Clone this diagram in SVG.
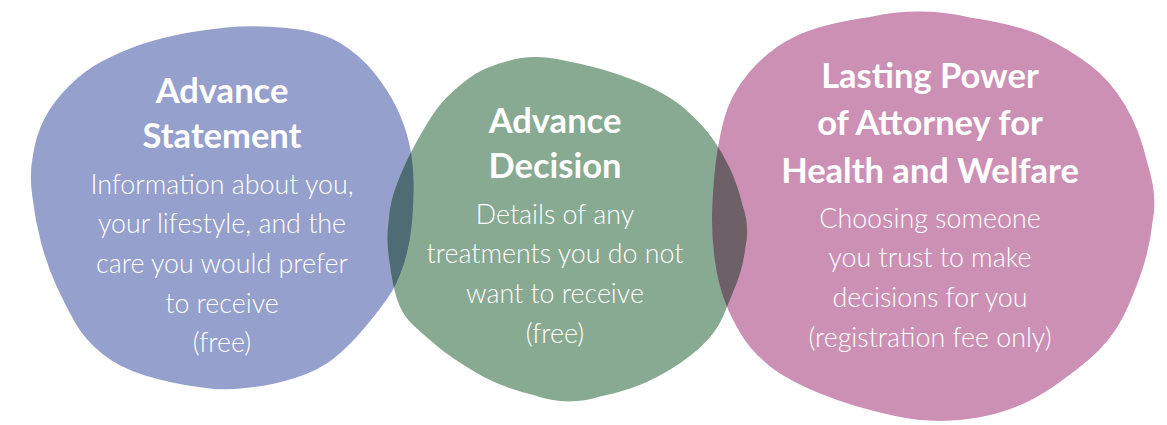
<svg xmlns="http://www.w3.org/2000/svg" width="1167" height="425" viewBox="0 0 1167 425">
<style>
.title{font-family:Lato,"Open Sans","Liberation Sans",sans-serif;font-weight:700;font-size:34.5px;fill:#ffffff;text-anchor:middle}
.body{font-family:Lato,"Open Sans","Liberation Sans",sans-serif;font-weight:300;font-size:26.8px;fill:#ffffff;text-anchor:middle}
</style>
<defs>
<path id="blueShape" d="M226.5,27.5 Q253,25 286.5,28 Q320,31 340,43 Q360,55 374,72.5 Q388,90 396.5,107.5 Q405,125 409,142.5 Q413,160 413.5,180 Q414,200 412,222.5 Q410,245 403.5,265 Q397,285 387,299 Q377,313 363.5,329 Q350,345 335,357.5 Q320,370 295,378 Q270,386 245,388 Q220,391 195,386.5 Q170,383 145,375.5 Q120,368 102.5,354 Q85,340 75,322.5 Q65,305 56,285 Q47,265 41,242.5 Q35,220 32.5,197.5 Q29,175 33,155 Q36,135 44.5,118.5 Q53,102 69,86 Q85,70 102.5,61 Q120,52 136.5,46 Q153,40 176.5,35 Q200,30 226.5,27.5 Z"/>
<path id="greenShape" d="M508,61 Q533,53 566.5,61 Q600,67 633.5,80 Q667,93 685,109 Q703,125 712.5,138.5 Q722,152 729.5,167.5 Q737,183 742.5,205 Q750,227 745.5,247 Q743,267 736.5,283.5 Q730,300 723,316.5 Q716,333 699.5,348 Q683,363 658,376.5 Q633,390 600,396.5 Q567,407 533.5,395 Q500,387 475,372 Q450,357 437.5,346.5 Q425,336 413.5,325.5 Q402,315 397,299 Q392,283 389.5,261.5 Q386,240 388.5,222.5 Q390,205 393.5,194 Q397,183 403.5,168 Q410,153 421.5,133 Q433,113 441.5,103 Q450,93 466.5,80 Q483,67 508,61 Z"/>
<path id="pinkShape" d="M870,17 Q920,6 970,17.5 Q1020,25 1045,37.5 Q1070,50 1090,65 Q1110,80 1125,105 Q1140,130 1147.5,163.5 Q1158,197 1152.5,222 Q1150,247 1141.5,272 Q1133,297 1124,315 Q1115,333 1101,348 Q1087,363 1053.5,386.5 Q1020,410 978.5,417.5 Q937,425 895,416 Q853,407 820,393.5 Q787,380 769.5,366 Q752,352 741.5,335 Q731,318 724.5,300.5 Q718,283 715,261.5 Q712,240 712,220 Q712,200 714.5,173.5 Q717,147 723.5,121 Q730,95 749,72.5 Q768,50 794,37 Q820,24 870,17 Z"/>
<clipPath id="clipBlue"><use href="#blueShape"/></clipPath>
<clipPath id="clipPink"><use href="#pinkShape"/></clipPath>
</defs>
<rect width="1167" height="425" fill="#ffffff"/>
<g id="advance-statement">
<use href="#blueShape" fill="#95a0cc"/>
</g>
<g id="advance-decision">
<use href="#greenShape" fill="#89aa92"/>
</g>
<g id="lasting-power-of-attorney">
<use href="#pinkShape" fill="#cd90b5"/>
</g>
<g id="overlaps">
<use href="#greenShape" fill="#4f6b74" clip-path="url(#clipBlue)"/>
<use href="#greenShape" fill="#6d6067" clip-path="url(#clipPink)"/>
</g>
<g id="advance-statement-text">
<text class="title" x="222" y="103">Advance</text>
<text class="title" x="222" y="148">Statement</text>
<text class="body" x="222" y="194">Information about you,</text>
<text class="body" x="222" y="233">your lifestyle, and the</text>
<text class="body" x="222" y="273">care you would prefer</text>
<text class="body" x="222" y="313">to receive</text>
<text class="body" x="222" y="352">(free)</text>
</g>
<g id="advance-decision-text">
<text class="title" x="555" y="133">Advance</text>
<text class="title" x="555" y="178">Decision</text>
<text class="body" x="555" y="224">Details of any</text>
<text class="body" x="555" y="263">treatments you do not</text>
<text class="body" x="555" y="303">want to receive</text>
<text class="body" x="555" y="343">(free)</text>
</g>
<g id="lasting-power-of-attorney-text">
<text class="title" x="930" y="88">Lasting Power</text>
<text class="title" x="930" y="135">of Attorney for</text>
<text class="title" x="930" y="183">Health and Welfare</text>
<text class="body" x="930" y="228">Choosing someone</text>
<text class="body" x="930" y="267">you trust to make</text>
<text class="body" x="930" y="307">decisions for you</text>
<text class="body" x="930" y="347">(registration fee only)</text>
</g>
<g id="connectors"></g>
</svg>
